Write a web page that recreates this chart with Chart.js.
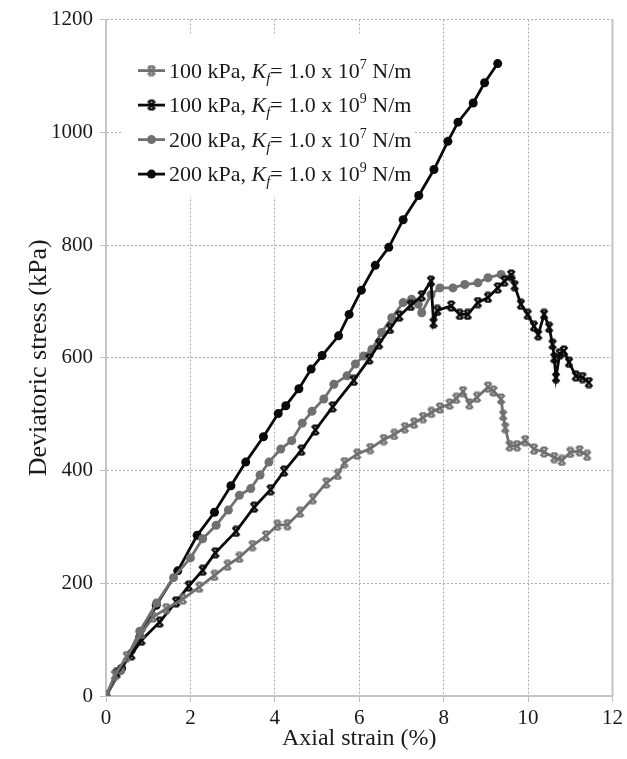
<!DOCTYPE html>
<html>
<head>
<meta charset="utf-8">
<script src="https://cdn.jsdelivr.net/npm/chart.js@4.4.1/dist/chart.umd.min.js"></script>
<style>
  body { margin: 0; background: #fff; }
  #wrap { width: 627px; height: 759px; position: relative; }
</style>
</head>
<body>
<div id="wrap"><canvas id="chart"></canvas></div>
<script>
// 100 kPa, Kf = 1e7 (grey crosses)
var strain1 = [0, 0.21, 0.49, 0.84, 1.11, 1.43, 1.82, 2.21, 2.57, 2.88, 3.16, 3.47, 3.79, 4.06, 4.30, 4.60, 4.90, 5.22, 5.49, 5.65, 5.95, 6.26, 6.58, 6.83, 7.08, 7.30, 7.51, 7.71, 7.91, 8.14, 8.30, 8.46, 8.61, 8.79, 9.05, 9.18, 9.36, 9.41, 9.46, 9.56, 9.74, 9.93, 10.14, 10.38, 10.62, 10.80, 11.00, 11.22, 11.40];
var stress1 = [0, 37, 70, 111, 140, 155, 172, 193, 214, 232, 246, 267, 284, 303, 304, 326, 350, 378, 393, 414, 429, 439, 455, 464, 476, 484, 494, 503, 511, 518, 528, 540, 518, 530, 548, 541, 527, 498, 476, 444, 444, 453, 438, 433, 423, 418, 432, 435, 427];

// 100 kPa, Kf = 1e9 (black crosses)
var strain2 = [0, 0.25, 0.60, 0.84, 1.27, 1.66, 1.96, 2.29, 2.59, 3.08, 3.51, 3.90, 4.22, 4.63, 4.96, 5.37, 5.87, 6.24, 6.47, 6.73, 6.95, 7.22, 7.48, 7.70, 7.76, 7.85, 8.18, 8.38, 8.57, 8.81, 9.05, 9.28, 9.44, 9.60, 9.68, 9.83, 9.99, 10.14, 10.24, 10.38, 10.50, 10.58, 10.62, 10.66, 10.75, 10.85, 10.97, 11.13, 11.29, 11.44];
var stress2 = [0, 40, 73, 99, 131, 167, 195, 223, 254, 292, 335, 366, 399, 436, 472, 513, 560, 598, 625, 652, 674, 693, 710, 736, 662, 684, 692, 677, 677, 698, 707, 724, 736, 747, 728, 695, 677, 656, 641, 677, 654, 624, 600, 565, 607, 612, 592, 568, 565, 556];

// 200 kPa, Kf = 1e7 (grey circles)
var strain3 = [0, 0.35, 0.80, 1.20, 1.60, 2.00, 2.29, 2.61, 2.90, 3.16, 3.43, 3.65, 3.86, 4.14, 4.40, 4.65, 4.88, 5.16, 5.40, 5.71, 5.91, 6.10, 6.30, 6.53, 6.77, 7.04, 7.24, 7.40, 7.48, 7.70, 7.91, 8.22, 8.50, 8.81, 9.05, 9.36, 9.60];
var stress3 = [0, 45, 115, 165, 210, 245, 279, 303, 330, 356, 368, 392, 415, 438, 453, 484, 505, 527, 553, 568, 589, 603, 615, 645, 671, 698, 704, 695, 680, 712, 724, 724, 730, 733, 742, 748, 742];

// 200 kPa, Kf = 1e9 (black circles)
var strain4 = [0, 0.37, 0.80, 1.19, 1.70, 2.16, 2.57, 2.96, 3.31, 3.73, 4.08, 4.26, 4.57, 4.86, 5.12, 5.51, 5.76, 6.05, 6.38, 6.70, 7.04, 7.41, 7.77, 8.10, 8.34, 8.70, 8.97, 9.28];
var stress4 = [0, 49, 105, 161, 222, 285, 326, 373, 415, 460, 501, 515, 545, 580, 604, 639, 677, 720, 764, 796, 845, 888, 934, 984, 1018, 1052, 1088, 1122];

var pressures = ['100 kPa', '100 kPa', '200 kPa', '200 kPa'];
var kfExponents = ['7', '9', '7', '9'];

var xTicks = [0, 2, 4, 6, 8, 10, 12];
var yTicks = [0, 200, 400, 600, 800, 1000, 1200];

var GREY = '#707070';
var BLACK = '#0a0a0a';
var SERIF = "'Liberation Serif', 'Times New Roman', serif";

function pairs(xs, ys) {
    var out = [];
    for (let i = 0; i < xs.length; i++) out.push({ x: xs[i], y: ys[i] });
    return out;
}

// x-shaped marker with short flat caps, like the spreadsheet marker
function crossMarker(color) {
    var c = document.createElement('canvas');
    c.width = 12;
    c.height = 12;
    var g = c.getContext('2d');
    g.strokeStyle = color;
    g.lineWidth = 2.4;
    g.beginPath();
    g.moveTo(2.5, 2); g.lineTo(9.5, 10);
    g.moveTo(9.5, 2); g.lineTo(2.5, 10);
    g.moveTo(3.5, 1.6); g.lineTo(8.5, 1.6);
    g.moveTo(3.5, 10.4); g.lineTo(8.5, 10.4);
    g.stroke();
    return c;
}

var greyCross = crossMarker(GREY);
var blackCross = crossMarker(BLACK);

function labelFor(i) {
    return pressures[i] + ', Kf = 1.0 x 10^' + kfExponents[i] + ' N/m';
}

var datasets = [
    { label: labelFor(0), data: pairs(strain1, stress1), borderColor: GREY, backgroundColor: GREY, pointStyle: greyCross, mark: 'cross' },
    { label: labelFor(1), data: pairs(strain2, stress2), borderColor: BLACK, backgroundColor: BLACK, pointStyle: blackCross, mark: 'cross' },
    { label: labelFor(2), data: pairs(strain3, stress3), borderColor: GREY, backgroundColor: GREY, pointStyle: 'circle', pointRadius: 4.5, mark: 'circle' },
    { label: labelFor(3), data: pairs(strain4, stress4), borderColor: BLACK, backgroundColor: BLACK, pointStyle: 'circle', pointRadius: 4.5, mark: 'circle' }
];
datasets.forEach(function (d) {
    d.borderWidth = 2.8;
    d.showLine = true;
    d.tension = 0;
    d.pointBorderWidth = 0;
    if (!d.pointRadius) d.pointRadius = 6;
});

// right frame line
var frame = {
    id: 'frame',
    beforeDatasetsDraw(chart) {
        var a = chart.chartArea, ctx = chart.ctx;
        ctx.save();
        ctx.strokeStyle = '#c4c4c4';
        ctx.lineWidth = 2;
        ctx.beginPath();
        ctx.moveTo(a.right, a.top);
        ctx.lineTo(a.right, a.bottom);
        ctx.stroke();
        ctx.restore();
    }
};

// legend with italic K_f and superscript exponent
var legendBox = {
    id: 'legendBox',
    afterDatasetsDraw(chart) {
        var a = chart.chartArea, ctx = chart.ctx;
        var left = a.left + 17, top = a.top + 14;
        ctx.save();
        ctx.fillStyle = '#fff';
        ctx.fillRect(left, top, 290, 163);
        var size = 22;
        for (let i = 0; i < datasets.length; i++) {
            var d = datasets[i];
            var y = top + 37 + i * 34.5;
            var lx = left + 15;
            ctx.strokeStyle = d.borderColor;
            ctx.lineWidth = 2.8;
            ctx.beginPath();
            ctx.moveTo(lx, y);
            ctx.lineTo(lx + 27, y);
            ctx.stroke();
            if (d.mark === 'circle') {
                ctx.fillStyle = d.borderColor;
                ctx.beginPath();
                ctx.arc(lx + 13.5, y, 4.5, 0, Math.PI * 2);
                ctx.fill();
            } else {
                ctx.drawImage(d.pointStyle, lx + 13.5 - 6, y - 6);
            }
            var x = lx + 31;
            ctx.fillStyle = '#1a1a1a';
            ctx.textBaseline = 'alphabetic';
            var base = y + 7;
            var parts = [
                [pressures[i] + ', ', 'normal', size, 0],
                ['K', 'italic', size, 0],
                ['f', 'italic', 15, 5],
                ['= 1.0 x 10', 'normal', size, 0],
                [kfExponents[i], 'normal', 14, -9],
                [' N/m', 'normal', size, 0]
            ];
            parts.forEach(function (p) {
                ctx.font = p[1] + ' ' + p[2] + 'px ' + SERIF;
                ctx.fillText(p[0], x, base + p[3]);
                x += ctx.measureText(p[0]).width;
            });
        }
        ctx.restore();
    }
};

var Ctx = document.getElementById('chart');
var chart1 = new Chart(Ctx, {
    type: 'scatter',
    data: { datasets: datasets },
    plugins: [frame, legendBox],
    options: {
        responsive: true,
        maintainAspectRatio: false,
        animation: false,
        layout: { padding: { top: 18, right: 11, left: 0, bottom: 0 } },
        plugins: {
            legend: { display: false },
            tooltip: { enabled: false }
        },
        scales: {
            x: {
                type: 'linear',
                min: 0,
                max: 12,
                afterBuildTicks: function (s) { s.ticks = xTicks.map(function (v) { return { value: v }; }); },
                afterFit: function (s) { s.height = 63; },
                ticks: { color: '#1a1a1a', font: { family: SERIF, size: 21 }, padding: 4, callback: function (v) { return String(v); } },
                grid: { color: '#ababab', lineWidth: 1, tickLength: 6, tickColor: '#bdbdbd', tickBorderDash: [] },
                border: { color: '#c4c4c4', width: 2, dash: [2, 2] },
                title: { display: true, text: 'Axial strain (%)', color: '#1a1a1a', font: { family: SERIF, size: 24 }, padding: { top: 0, bottom: 6 } }
            },
            y: {
                type: 'linear',
                min: 0,
                max: 1200,
                afterBuildTicks: function (s) { s.ticks = yTicks.map(function (v) { return { value: v }; }); },
                afterFit: function (s) { s.width = 106; },
                ticks: { color: '#1a1a1a', font: { family: SERIF, size: 21 }, padding: 7, callback: function (v) { return String(v); } },
                grid: { color: '#ababab', lineWidth: 1, tickLength: 6, tickColor: '#bdbdbd', tickBorderDash: [] },
                border: { color: '#c4c4c4', width: 2, dash: [2, 2] },
                title: { display: true, text: 'Deviatoric stress (kPa)', color: '#1a1a1a', font: { family: SERIF, size: 26 }, padding: { top: 24, bottom: 0 } }
            }
        }
    }
});
</script>
</body>
</html>
